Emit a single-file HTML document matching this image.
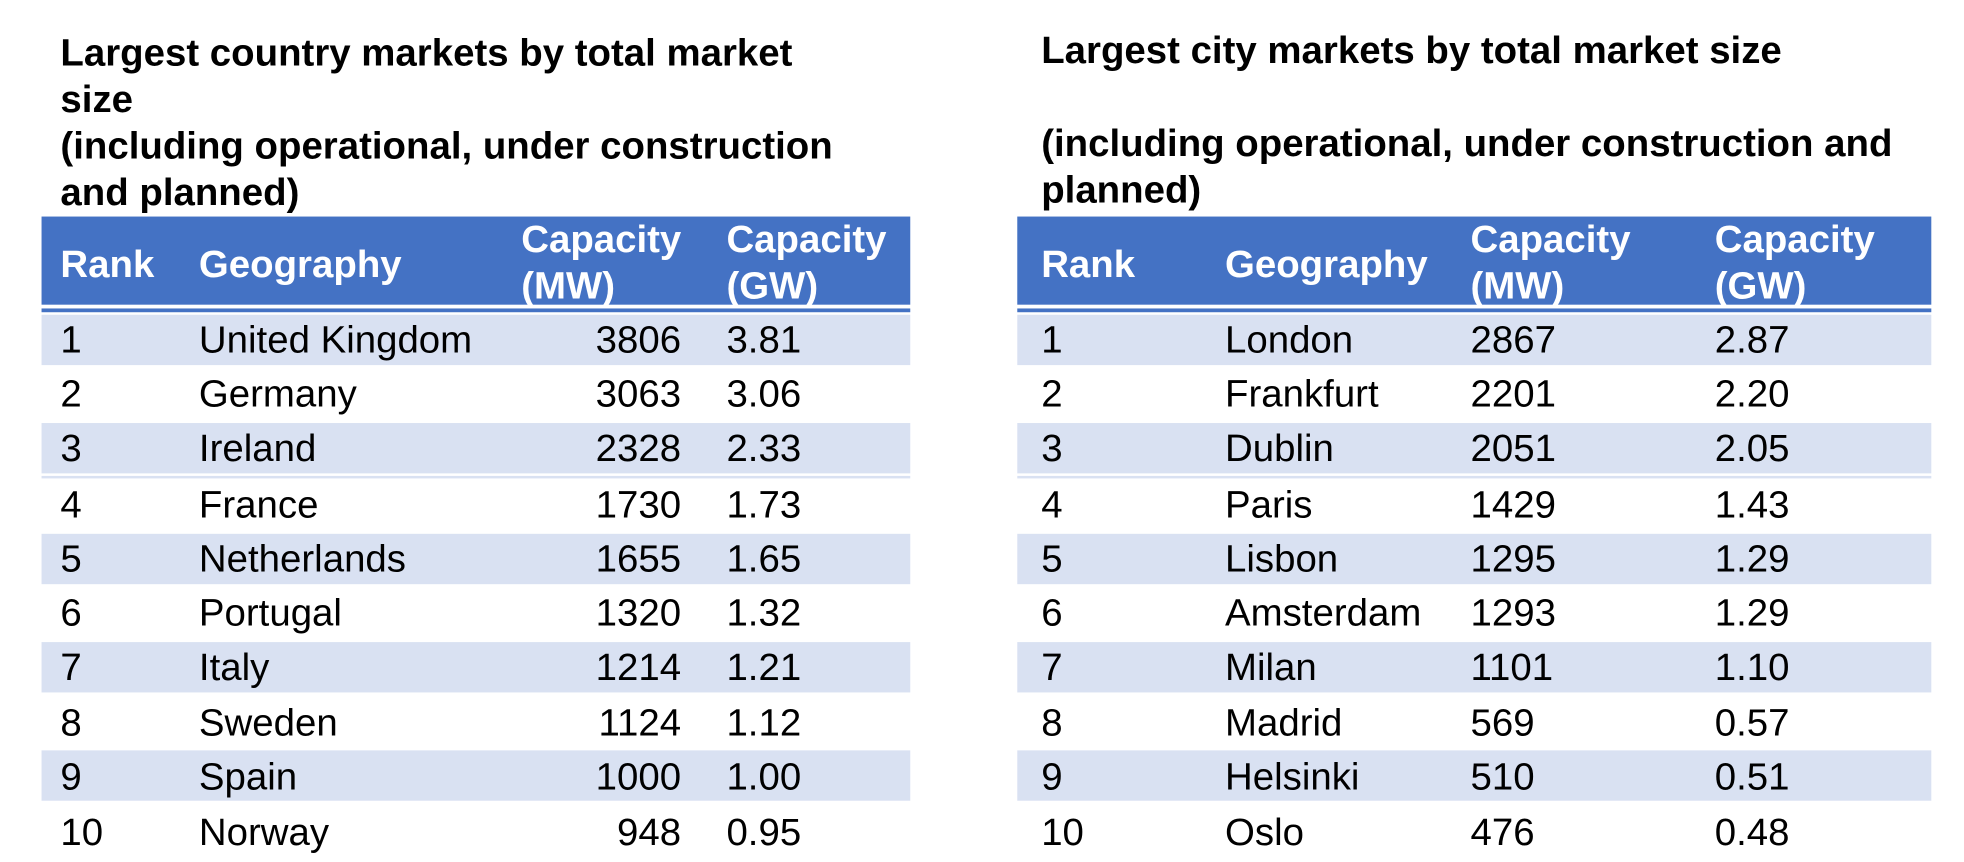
<!DOCTYPE html>
<html><head><meta charset="utf-8"><style>
html,body{margin:0;padding:0;background:#fff;width:1964px;height:862px;overflow:hidden}
#w{position:absolute;left:0;top:0;width:1560px;height:685px;transform:scale(1.259);transform-origin:0 0;font-family:"Liberation Sans",Arial,sans-serif;color:#000}
.t{position:absolute;font-weight:bold;font-size:30.5px;line-height:37px;white-space:nowrap}
.hd{position:absolute;background:#4472C4;height:70px}
.hl{position:absolute;height:3px;background:#4472C4}
.r{position:absolute;height:40px}
.s{background:#D9E1F2}
.c{position:absolute;font-size:30.5px;white-space:nowrap;line-height:30px}
.h{position:absolute;font-size:30.5px;font-weight:bold;color:#fff;line-height:37px;white-space:nowrap}
</style></head><body><div id="w">
<div class="t" style="left:48px;top:24px">Largest country markets by total market<br>size<br>(including operational, under construction<br>and planned)</div>
<div class="t" style="left:827px;top:22px">Largest city markets by total market size<br><br>(including operational, under construction and<br>planned)</div>

<div class="hd" style="left:33px;top:172px;width:690px"></div>
<div class="hl" style="left:33px;top:245px;width:690px"></div>
<div class="hd" style="left:808px;top:172px;width:726px"></div>
<div class="hl" style="left:808px;top:245px;width:726px"></div>

<div class="h" style="left:48px;top:192px">Rank</div>
<div class="h" style="left:158px;top:192px">Geography</div>
<div class="h" style="left:414px;top:172px">Capacity<br>(MW)</div>
<div class="h" style="left:577px;top:172px">Capacity<br>(GW)</div>
<div class="h" style="left:827px;top:192px">Rank</div>
<div class="h" style="left:973px;top:192px">Geography</div>
<div class="h" style="left:1168px;top:172px">Capacity<br>(MW)</div>
<div class="h" style="left:1362px;top:172px">Capacity<br>(GW)</div>

<div class="r s" style="left:33px;top:250px;width:690px"></div>
<div class="r s" style="left:33px;top:336px;width:690px"></div>
<div class="r s" style="left:33px;top:424px;width:690px"></div>
<div class="r s" style="left:33px;top:510px;width:690px"></div>
<div class="r s" style="left:33px;top:596px;width:690px"></div>
<div class="r s" style="left:808px;top:250px;width:726px"></div>
<div class="r s" style="left:808px;top:336px;width:726px"></div>
<div class="r s" style="left:808px;top:424px;width:726px"></div>
<div class="r s" style="left:808px;top:510px;width:726px"></div>
<div class="r s" style="left:808px;top:596px;width:726px"></div>
<div style="position:absolute;left:33px;top:378px;width:690px;height:2px;background:#D9E1F2"></div>
<div style="position:absolute;left:808px;top:378px;width:726px;height:2px;background:#D9E1F2"></div>

<div id="rows"></div>
<script>
var L=[["1","United Kingdom","3806","3.81"],["2","Germany","3063","3.06"],["3","Ireland","2328","2.33"],["4","France","1730","1.73"],["5","Netherlands","1655","1.65"],["6","Portugal","1320","1.32"],["7","Italy","1214","1.21"],["8","Sweden","1124","1.12"],["9","Spain","1000","1.00"],["10","Norway","948","0.95"]];
var R=[["1","London","2867","2.87"],["2","Frankfurt","2201","2.20"],["3","Dublin","2051","2.05"],["4","Paris","1429","1.43"],["5","Lisbon","1295","1.29"],["6","Amsterdam","1293","1.29"],["7","Milan","1101","1.10"],["8","Madrid","569","0.57"],["9","Helsinki","510","0.51"],["10","Oslo","476","0.48"]];
var ys=[270,313,356,401,444,487,530,574,617,661],h="";
for(var i=0;i<10;i++){var t=ys[i]-15;
h+='<div class="c" style="left:48px;top:'+t+'px">'+L[i][0]+'</div>';
h+='<div class="c" style="left:158px;top:'+t+'px">'+L[i][1]+'</div>';
h+='<div class="c" style="right:'+(1560-541)+'px;top:'+t+'px">'+L[i][2]+'</div>';
h+='<div class="c" style="left:577px;top:'+t+'px">'+L[i][3]+'</div>';
h+='<div class="c" style="left:827px;top:'+t+'px">'+R[i][0]+'</div>';
h+='<div class="c" style="left:973px;top:'+t+'px">'+R[i][1]+'</div>';
h+='<div class="c" style="left:1168px;top:'+t+'px">'+R[i][2]+'</div>';
h+='<div class="c" style="left:1362px;top:'+t+'px">'+R[i][3]+'</div>';}
document.getElementById("rows").innerHTML=h;
</script>
</div></body></html>
